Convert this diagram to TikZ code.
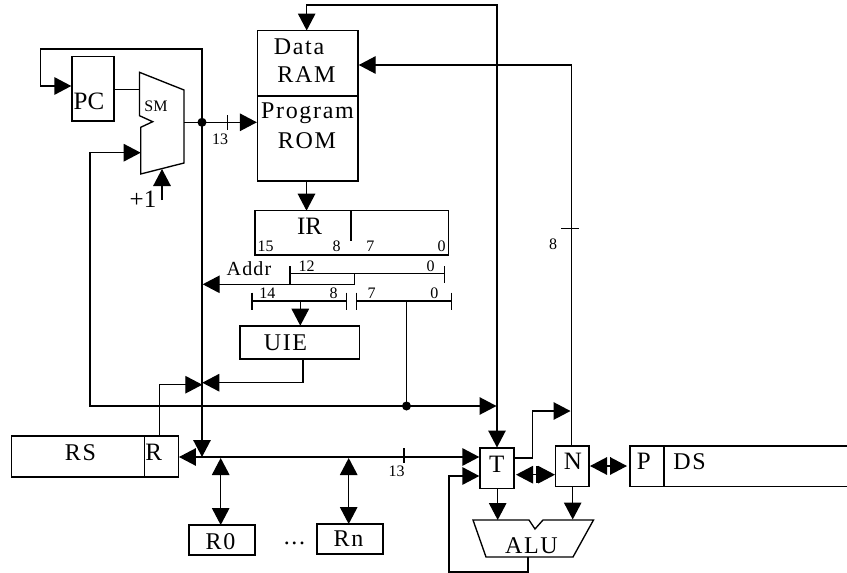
\documentclass[tikz,border=0pt]{standalone}
\usepackage{fontspec}
\setmainfont{Liberation Serif}
\usetikzlibrary{arrows.meta}
\tikzset{
  x=1pt,y=-1pt,
  wire/.style={line width=1.35pt,black},
  box/.style={draw=black,line width=1.35pt,inner sep=0pt},
  arr/.style={wire,-{Triangle[length=17pt,width=17.5pt]}},
  arrr/.style={wire,{Triangle[length=17pt,width=17.5pt]}-{Triangle[length=17pt,width=17.5pt]}},
  dott/.style={circle,fill=black,inner sep=0pt,minimum size=9pt},
  txt/.style={inner sep=0pt,anchor=base,font=\fontsize{24}{26}\selectfont\addfontfeatures{LetterSpace=7}},
  tight/.style={inner sep=0pt,anchor=base,font=\fontsize{25}{26}\selectfont},
  small/.style={inner sep=0pt,anchor=base,font=\fontsize{16}{18}\selectfont},
}
\begin{document}
\begin{tikzpicture}
\useasboundingbox (0,0) rectangle (847,573);
% ---- blocks
\node[box,minimum width=42pt,minimum height=64.5pt] (pc) at (93,88.7) {};
\node[tight] (pclabel) at (89,109) {PC};
\draw[wire] (139.5,72.3) -- (184,90) -- (184,163) -- (140.7,174) -- (140.7,127.3) -- (152.7,121.7) -- (139.5,115.7) -- cycle;
\node[small] (smlabel) at (156,111) {SM};
\node[box,minimum width=100.5pt,minimum height=150.5pt] (mem) at (307.8,105.7) {};
\draw[wire] (mem.west |- 0,96) -- (mem.east |- 0,96);
\node[txt] (data) at (299,54) {Data};
\node[txt] (ram) at (306.5,82.7) {RAM};
\node[txt] (prog) at (307.5,118) {Program};
\node[txt] (rom) at (307,148) {ROM};
\node[box,minimum width=193.3pt,minimum height=44.3pt] (ir) at (351.7,232.9) {};
\draw[wire] (351,210.7) -- (351,240.7);
\node[tight] (irl) at (309.5,234) {IR};
\node[small] (d15) at (265.7,251.7) {15};
\node[small] (d8) at (336.7,251.7) {8};
\node[small] (d7) at (370.3,251.7) {7};
\node[small] (d0) at (441.7,251.7) {0};
\node[inner sep=0pt,anchor=base,font=\fontsize{20}{22}\selectfont\addfontfeatures{LetterSpace=6}] (addr) at (249,275) {Addr};
\node[small] (e12) at (306.7,271.7) {12};
\node[small] (e0) at (430.7,271.7) {0};
\node[small] (f14) at (267.3,298.3) {14};
\node[small] (f8) at (333.7,298.3) {8};
\node[small] (f7) at (371.7,298.3) {7};
\node[small] (f0) at (434.3,298.3) {0};
% bit-field brackets
\coordinate (a1) at (290,273.7); \coordinate (a2) at (444.7,273.7);
\coordinate (b1) at (252,301); \coordinate (b2) at (346.3,301);
\coordinate (c1) at (356.7,301); \coordinate (c2) at (451.3,301);
\draw[wire] (a1) -- (a2);
\draw[wire] (290,266) -- (290,284.3);
\draw[wire] (444.7,266) -- (444.7,283);
\draw[wire] (b1) -- (b2);
\draw[wire] (252,292.7) -- (252,310);
\draw[wire] (346.3,292.7) -- (346.3,310);
\draw[wire] (c1) -- (c2);
\draw[wire] (356.7,292.7) -- (356.7,310);
\draw[wire] (451.3,292.7) -- (451.3,310);
\node[box,minimum width=119.3pt,minimum height=33pt] (uie) at (299.7,342.5) {};
\node[txt] (uiel) at (285.5,350) {UIE};
\node[box,minimum width=166.6pt,minimum height=41pt] (rs) at (95,456.5) {};
\draw[wire] (144.7,436) -- (144.7,477);
\node[txt] (rsl) at (80.5,460) {RS};
\node[tight] (rl) at (153.7,460) {R};
\node[box,minimum width=66pt,minimum height=30pt] (r0) at (222,540) {};
\node[txt] (r0l) at (220.5,549.3) {R0};
\node[box,minimum width=66pt,minimum height=30pt] (rn) at (350,539) {};
\node[txt] (rnl) at (348.5,546.7) {Rn};
\node[txt] (dots) at (294.5,544) {...};
\node[box,minimum width=34pt,minimum height=40.7pt] (t) at (497,468.3) {};
\node[tight] (tl) at (496.7,472) {T};
\node[box,minimum width=33.5pt,minimum height=40.7pt] (n) at (572.2,466.3) {};
\node[tight] (nl) at (573,469) {N};
\draw[wire] (848,446) -- (630,446) -- (630,486.7) -- (848,486.7);
\draw[wire] (664,446) -- (664,486.7);
\node[tight] (pl) at (643.7,469) {P};
\node[txt] (dsl) at (689.5,469) {DS};
\draw[wire] (473,520) -- (529,520) -- (535,529) -- (543,520) -- (593.5,520) -- (573,557) -- (486,557) -- cycle;
\node[txt] (alul) at (531.5,553) {ALU};
% ---- named end points
\coordinate (busT) at (202,122.3);
\coordinate (busB) at (202,457);
\coordinate (tapC) at (406.5,406);
\coordinate (ja) at (202.3,382.7);
% ---- connectors
\draw[arr] (busT) -- (202,49) -- (40.3,49) -- (40.3,86) -- (pc.west |- 0,86);
\draw[wire] (pc.east |- 0,89.3) -- (139.5,89.3);
\draw[wire] (184,122.3) -- (busT);
\draw[arr] (busT) -- (mem.west |- busT);
\draw[wire] (227.7,115) -- (227.7,130);
\node[small] (n13a) at (220,144) {13};
\node[dott] (dota) at (busT) {};
\draw[arr] (tapC) -- (90,406) -- (90,152.7) -- (140.7,152.7);
\draw[arr] (162,200) -- (162,169);
\node[tight] (plus) at (143,207) {+1};
\draw[arr] (busT) -- (busB);
\draw[arrr] (306.7,30.5) -- (306.7,5) -- (497,5) -- (497,447.5);
\draw[arr] (571.5,446) -- (571.5,65) -- (mem.east |- 0,65);
\draw[wire] (561,228.3) -- (579,228.3);
\node[small] (n8) at (553,249.3) {8};
\draw[arr] (306.5,181) -- (306.5,210.7);
\draw[arr] (354.7,273.7) -- (354.7,284.3) -- (202.7,284.3);
\draw[arr] (300.3,301) -- (300.3,325.7);
\draw[arr] (303,360) -- (303,382.7) -- (ja);
\draw[arr] (159.3,436) -- (159.3,384.7) -- (ja |- 0,384.7);
\draw[arr] (tapC) -- (496.5,406);
\draw[wire] (406.5,301) -- (tapC);
\node[dott] (dotb) at (tapC) {};
\draw[arr] (busB) -- (rs.east |- busB);
\draw[arr] (busB) -- (t.west |- busB);
\draw[wire] (404,448) -- (404,463);
\node[small] (n13b) at (396.7,476.7) {13};
\draw[arrr] (220.7,458) -- (220.7,525);
\draw[arrr] (348.7,458) -- (348.7,524);
\draw[arrr] (516,474.7) -- (555,474.7);
\draw[arrr] (590,466) -- (627,466);
\draw[wire] (537,466) -- (537,483);
\draw[wire] (610.7,457) -- (610.7,474);
\draw[arr] (t.east |- 0,458) -- (532.7,458) -- (532.7,411) -- (570.5,411);
\draw[arr] (497.7,488.7) -- (497.7,520);
\draw[arr] (572.7,486.7) -- (572.7,519.5);
\draw[arr] (528,557) -- (528,572) -- (449,572) -- (449,476) -- (t.west |- 0,476);
\end{tikzpicture}
\end{document}
